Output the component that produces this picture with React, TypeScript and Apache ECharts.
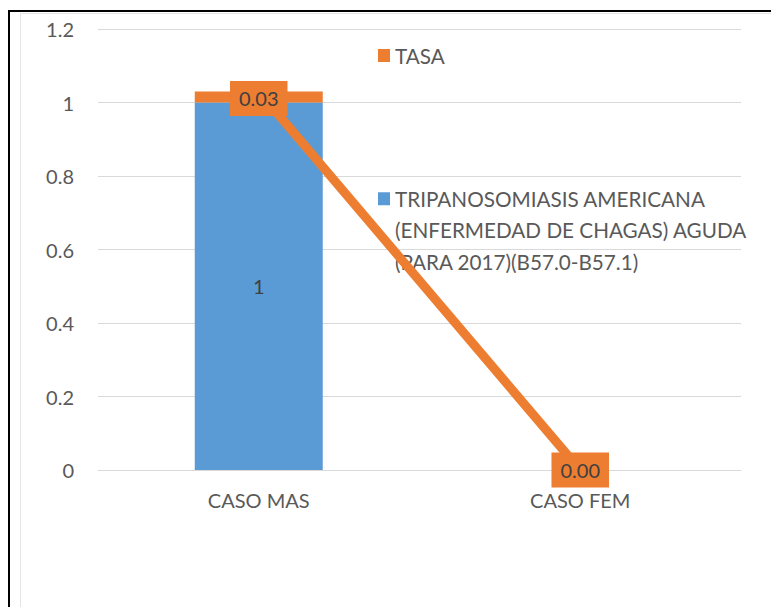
import React, { useEffect, useRef } from "react";
import * as echarts from "echarts";

const categories = ["CASO MAS", "CASO FEM"];
const tripValues = [1, 0];
const tasaValues = [0.03, 0];
const yTicks = [0, 0.2, 0.4, 0.6, 0.8, 1, 1.2];
const tasaName = "TASA";
const tripLegendLines = [
  "TRIPANOSOMIASIS AMERICANA",
  "(ENFERMEDAD DE CHAGAS) AGUDA",
  "(PARA 2017)(B57.0-B57.1)",
];
const tripName = tripLegendLines.join(" ");

const FONT = "Lato";
const TXT = "#595959";
const LBL = "#404040";
const BLUE = "#5B9BD5";
const ORANGE = "#ED7D31";
const GRID = "#D9D9D9";

export default function App() {
  const ref = useRef<HTMLDivElement>(null);
  useEffect(() => {
    if (!ref.current) return;
    const chart = echarts.init(ref.current, undefined, { renderer: "svg" });
    const totals = categories.map((_, i) => tripValues[i] + tasaValues[i]);
    chart.setOption({
      animation: false,
      backgroundColor: "#ffffff",
      textStyle: { fontFamily: FONT },
      graphic: [
        { type: "rect", shape: { x: 20, y: 13, width: 751, height: 1 }, style: { fill: "#E4E4E4" }, silent: true },
        { type: "rect", shape: { x: 20, y: 13, width: 1, height: 594 }, style: { fill: "#E4E4E4" }, silent: true },
        { type: "rect", shape: { x: 8, y: 10, width: 763, height: 2 }, style: { fill: "#000000" }, silent: true },
        { type: "rect", shape: { x: 8, y: 10, width: 2, height: 597 }, style: { fill: "#000000" }, silent: true },
      ],
      legend: [
        {
          data: [tasaName],
          left: 378,
          top: 45,
          padding: 0,
          icon: "rect",
          itemWidth: 12,
          itemHeight: 13,
          selectedMode: false,
          textStyle: { fontFamily: FONT, fontSize: 20.7, color: TXT },
        },
        {
          data: [tripName],
          left: 378,
          top: 120,
          padding: 0,
          icon: "rect",
          itemWidth: 12,
          itemHeight: 13,
          selectedMode: false,
          formatter: () => "\n\n" + tripLegendLines.join("\n"),
          textStyle: {
            fontFamily: FONT,
            fontSize: 20.7,
            color: TXT,
            lineHeight: 31.5,
          },
        },
      ],
      grid: { left: 98, right: 30, top: 29, bottom: 137, containLabel: false },
      xAxis: {
        type: "category",
        data: categories,
        axisTick: { show: false },
        axisLine: { lineStyle: { color: GRID, width: 1 } },
        axisLabel: { fontFamily: FONT, fontSize: 20, color: TXT, margin: 20 },
      },
      yAxis: {
        type: "value",
        min: yTicks[0],
        max: yTicks[yTicks.length - 1],
        interval: 0.2,
        axisLine: { show: false },
        axisTick: { show: false },
        splitLine: { lineStyle: { color: GRID, width: 1 } },
        axisLabel: {
          fontFamily: FONT,
          fontSize: 20,
          color: TXT,
          margin: 24,
          formatter: (v: number) => String(Math.round(v * 10) / 10),
        },
      },
      series: [
        {
          name: tripName,
          type: "bar",
          stack: "total",
          barWidth: 128,
          data: tripValues,
          itemStyle: { color: BLUE },
          label: {
            show: true,
            position: "inside",
            fontFamily: FONT,
            fontSize: 20,
            color: LBL,
            formatter: (p: any) => (p.value ? String(p.value) : ""),
          },
        },
        {
          name: tasaName,
          type: "bar",
          stack: "total",
          barWidth: 128,
          data: tasaValues,
          itemStyle: { color: ORANGE },
        },
        {
          name: tasaName,
          type: "line",
          data: totals.map((v, i) =>
            i === 0 ? { value: v, label: { offset: [0, 7] } } : v
          ),
          z: 5,
          symbol: "rect",
          symbolSize: 1,
          itemStyle: { color: ORANGE },
          lineStyle: { color: ORANGE, width: 9 },
          label: {
            show: true,
            position: "inside",
            fontFamily: FONT,
            fontSize: 20,
            color: LBL,
            backgroundColor: ORANGE,
            padding: [8, 9, 7, 9],
            formatter: (p: any) => tasaValues[p.dataIndex].toFixed(2),
          },
        },
      ],
    });
    return () => chart.dispose();
  }, []);
  return (
    <div
      ref={ref}
      style={{ position: "absolute", left: 0, top: 0, width: 771, height: 607 }}
    />
  );
}
